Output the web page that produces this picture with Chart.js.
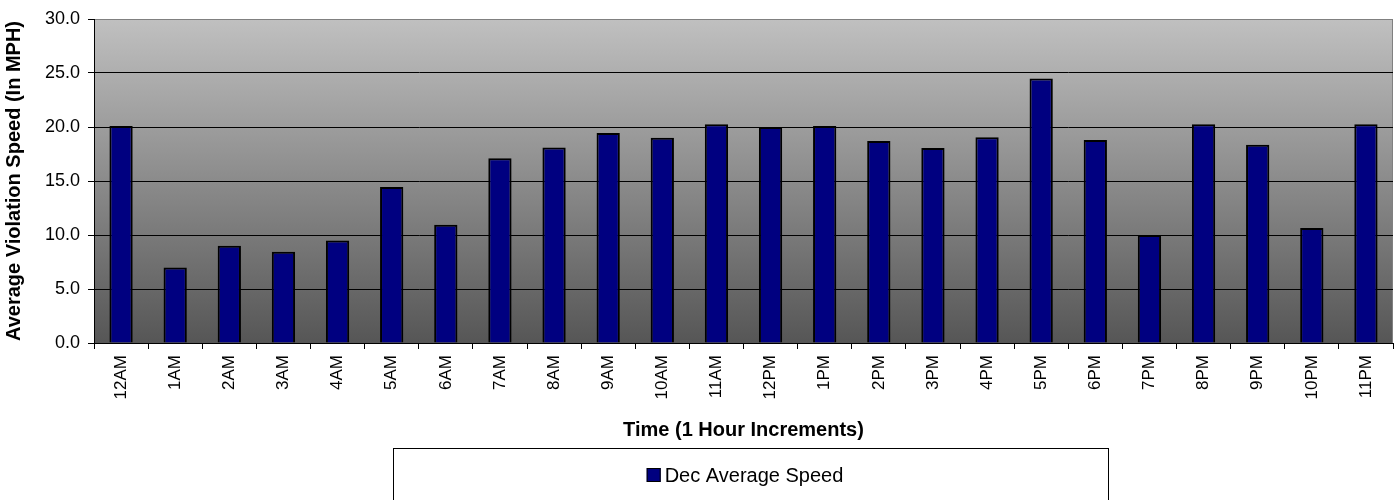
<!DOCTYPE html>
<html>
<head>
<meta charset="utf-8">
<script src="https://cdn.jsdelivr.net/npm/chart.js@4"></script>
<style>
  html, body { margin: 0; padding: 0; background: #fff; }
  #wrap { width: 1399px; height: 500px; }
</style>
</head>
<body>
<div id="wrap"><canvas id="myChart"></canvas></div>
<script>
const hours = ["12AM", "1AM", "2AM", "3AM", "4AM", "5AM", "6AM", "7AM", "8AM", "9AM", "10AM", "11AM",
  "12PM", "1PM", "2PM", "3PM", "4PM", "5PM", "6PM", "7PM", "8PM", "9PM", "10PM", "11PM"];
const avgSpeed = [20.1, 7.0, 9.0, 8.45, 9.5, 14.45, 10.95, 17.1, 18.1, 19.45, 19.0, 20.25,
  20.0, 20.1, 18.7, 18.05, 19.05, 24.5, 18.8, 10.0, 20.25, 18.35, 10.65, 20.25];
const seriesName = "Dec Average Speed";
const yTicks = [0, 5, 10, 15, 20, 25, 30];

const FONT = "'Liberation Sans', Arial, sans-serif";

// gray gradient behind the bars + gray frame
const plotBackground = {
  id: "plotBackground",
  beforeDraw(chart) {
    const { ctx, chartArea: a } = chart;
    const g = ctx.createLinearGradient(0, a.top, 0, a.bottom);
    g.addColorStop(0, "#c0c0c0");
    g.addColorStop(1, "#565656");
    ctx.save();
    ctx.fillStyle = g;
    ctx.fillRect(a.left, a.top, a.right - a.left, a.bottom - a.top);
    ctx.strokeStyle = "#808080";
    ctx.lineWidth = 1;
    ctx.strokeRect(a.left + 0.5, a.top + 0.5, a.right - a.left - 1, a.bottom - a.top);
    ctx.restore();
  }
};

// boxed legend under the axis title
const boxLegend = {
  id: "boxLegend",
  afterDraw(chart) {
    const { ctx } = chart;
    const ds = chart.data.datasets[0];
    ctx.save();
    ctx.strokeStyle = "#000";
    ctx.lineWidth = 1;
    ctx.strokeRect(393.5, 448.5, 715, 60);
    ctx.font = "20px " + FONT;
    ctx.textBaseline = "middle";
    const label = ds.label;
    const tw = ctx.measureText(label).width;
    const total = 14 + 4 + tw;
    const x0 = 745 - total / 2;
    const y = 475;
    ctx.fillStyle = ds.backgroundColor;
    ctx.fillRect(x0, y - 7, 14, 14);
    ctx.strokeStyle = "#000";
    ctx.strokeRect(x0 + 0.5, y - 6.5, 13, 13);
    ctx.fillStyle = "#000";
    ctx.textAlign = "left";
    ctx.fillText(label, x0 + 18, y + 1);
    ctx.restore();
  }
};

const barChart = new Chart(document.getElementById("myChart").getContext("2d"), {
  type: "bar",
  data: {
    labels: hours,
    datasets: [
      {
        label: seriesName,
        data: avgSpeed,
        backgroundColor: "#000080",
        borderColor: "#000000",
        borderWidth: 2,
        barPercentage: 0.43,
        categoryPercentage: 1.0,
      },
    ],
  },
  options: {
    responsive: true,
    maintainAspectRatio: false,
    animation: false,
    layout: {
      padding: { top: 19, right: 6, bottom: 57, left: 0 },
    },
    plugins: {
      legend: { display: false },
      tooltip: { enabled: false },
    },
    scales: {
      x: {
        offset: true,
        afterFit(scale) { scale.height = 100; },
        grid: {
          offset: true,
          drawOnChartArea: false,
          drawTicks: true,
          tickLength: 6,
          tickColor: "#000",
        },
        border: { display: true, color: "#000", width: 1 },
        ticks: {
          minRotation: 90,
          maxRotation: 90,
          autoSkip: false,
          padding: 6,
          color: "#000",
          font: { family: FONT, size: 17 },
        },
        title: {
          display: true,
          text: "Time (1 Hour Increments)",
          color: "#000",
          font: { family: FONT, size: 20, weight: "bold" },
          padding: { top: 0, bottom: 1 },
        },
      },
      y: {
        min: 0,
        max: 30,
        afterFit(scale) { scale.width = 94; },
        afterBuildTicks(scale) { scale.ticks = yTicks.map((v) => ({ value: v })); },
        grid: {
          color: (c) => (c.tick && c.tick.value === 30 ? "#808080" : "#000"),
          lineWidth: 1,
          drawTicks: true,
          tickLength: 6,
          tickColor: "#000",
        },
        border: { display: true, color: "#000", width: 1 },
        ticks: {
          padding: 8,
          color: "#000",
          font: { family: FONT, size: 18 },
          callback: (v) => Number(v).toFixed(1),
        },
        title: {
          display: true,
          text: "Average Violation Speed (In MPH)",
          color: "#000",
          font: { family: FONT, size: 20, weight: "bold" },
          padding: { top: 2, bottom: 0 },
        },
      },
    },
  },
  plugins: [plotBackground, boxLegend],
});
</script>
</body>
</html>
